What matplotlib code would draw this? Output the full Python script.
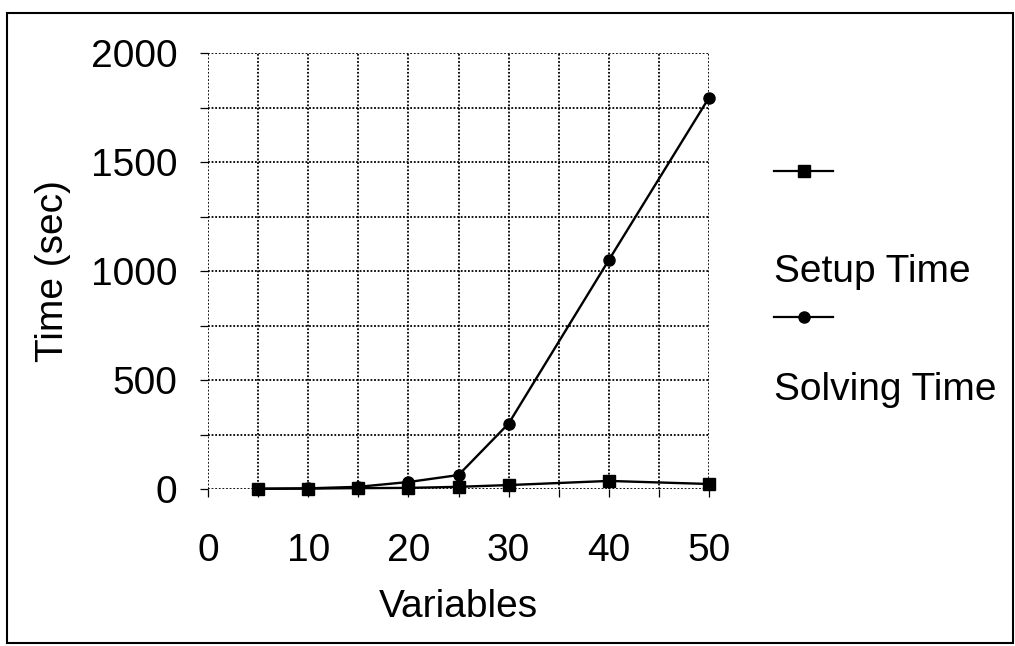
import matplotlib
matplotlib.use("Agg")
import matplotlib.pyplot as plt
from matplotlib.lines import Line2D
from matplotlib.patches import Rectangle
from matplotlib.ticker import MultipleLocator

plt.rcParams['font.family'] = ['Liberation Sans', 'DejaVu Sans']

variables = [5, 10, 15, 20, 25, 30, 40, 50]
setup_time = [1, 2, 4, 5, 10, 18, 37, 23]
solving_time = [1, 3, 10, 32, 64, 300, 1050, 1795]
series_labels = ["Setup Time", "Solving Time"]
x_ticks = [0, 10, 20, 30, 40, 50]
y_ticks = [0, 500, 1000, 1500, 2000]

W, H = 1015, 646
fig = plt.figure(figsize=(W / 100, H / 100), dpi=100)
ax = fig.add_axes([208 / W, 1 - 489 / H, 501 / W, 436 / H])

ax.plot(variables, setup_time, color='black', lw=1.7, marker='s', ms=8, zorder=3, clip_on=False)
ax.plot(variables, solving_time, color='black', lw=1.7, marker='o', ms=8, zorder=3, clip_on=False)

ax.set_xlim(0, 50)
ax.set_ylim(0, 2000)
ax.set_xticks(x_ticks)
ax.set_yticks(y_ticks)
ax.xaxis.set_minor_locator(MultipleLocator(5))
ax.yaxis.set_minor_locator(MultipleLocator(250))
ax.grid(True, which='both', color='black', ls=(0, (1.0, 1.0)), lw=1.3)
for s in ax.spines.values():
    s.set_visible(False)
ax.tick_params(which='both', direction='out', length=6, width=0.9, color='black')
ax.tick_params(axis='x', which='major', labelsize=28, pad=26)
ax.tick_params(axis='y', which='major', labelsize=28, pad=16)
ax.set_xlabel("Variables", fontsize=28, labelpad=14)
ax.set_ylabel("Time (sec)", fontsize=28, labelpad=14)

# legend (handles above labels)
lx0, lx1 = 774 / W, 833 / W
for yy, mk in [(171, 's'), (317, 'o')]:
    fig.add_artist(Line2D([lx0, lx1], [1 - yy / H, 1 - yy / H], color='black', lw=1.6,
                          transform=fig.transFigure))
    fig.add_artist(Line2D([(lx0 + lx1) / 2], [1 - yy / H], color='black', marker=mk, ms=8,
                          transform=fig.transFigure))
fig.text(774 / W, 1 - 272 / H, series_labels[0], fontsize=28, va='center', ha='left')
fig.text(774 / W, 1 - 390 / H, series_labels[1], fontsize=28, va='center', ha='left')

fig.add_artist(Rectangle((7 / W, 1 - 643 / H), 1006 / W, 630 / H, fill=False,
                         ec='black', lw=1.5, transform=fig.transFigure))

fig.savefig("out.png", dpi=100)
